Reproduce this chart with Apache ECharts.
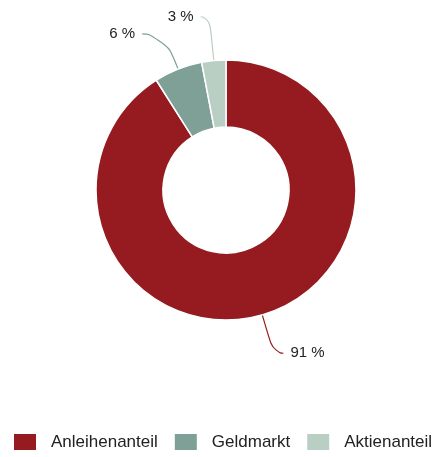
<!DOCTYPE html>
<html>
<head>
<meta charset="utf-8">
<script src="https://cdn.jsdelivr.net/npm/echarts@6/dist/echarts.min.js"></script>
<style>
  html, body { margin: 0; padding: 0; background: #fff; }
  #chart { width: 440px; height: 457px; }
</style>
</head>
<body>
<div id="chart"></div>
<script>
const categories = ["Anleihenanteil", "Geldmarkt", "Aktienanteil"];
const shares = [91, 6, 3];
const colors = ["#951b20", "#7fa096", "#b9cfc4"];

// label line lengths per slice [length, length2]
const lineLengths = [[40, 10], [38, 22], [44, 9]];

const chart = echarts.init(document.getElementById("chart"));

const option = {
  animation: false,
  color: colors,
  legend: {
    data: categories,
    bottom: 0,
    left: 7,
    width: 433,
    padding: 5,
    itemWidth: 24,
    itemHeight: 18,
    itemGap: 15,
    icon: "rect",
    textStyle: {
      fontFamily: "Liberation Sans, Arial, sans-serif",
      fontSize: 17,
      color: "#222",
      padding: [0, 0, 0, 9],
    },
  },
  series: [
    {
      type: "pie",
      center: [226, 190],
      radius: [63, 130],
      startAngle: 90,
      clockwise: true,
      avoidLabelOverlap: false,
      itemStyle: {
        borderColor: "#fff",
        borderWidth: 1.5,
      },
      label: {
        formatter: "{c} %",
        fontFamily: "Liberation Sans, Arial, sans-serif",
        fontSize: 15,
        color: "#222",
        distanceToLabelLine: 7,
      },
      labelLine: {
        smooth: 0.7,
        lineStyle: { width: 1.2 },
      },
      data: categories.map((name, i) => ({
        name: name,
        value: shares[i],
        labelLine: { length: lineLengths[i][0], length2: lineLengths[i][1] },
      })),
    },
  ],
};

chart.setOption(option);
</script>
</body>
</html>
